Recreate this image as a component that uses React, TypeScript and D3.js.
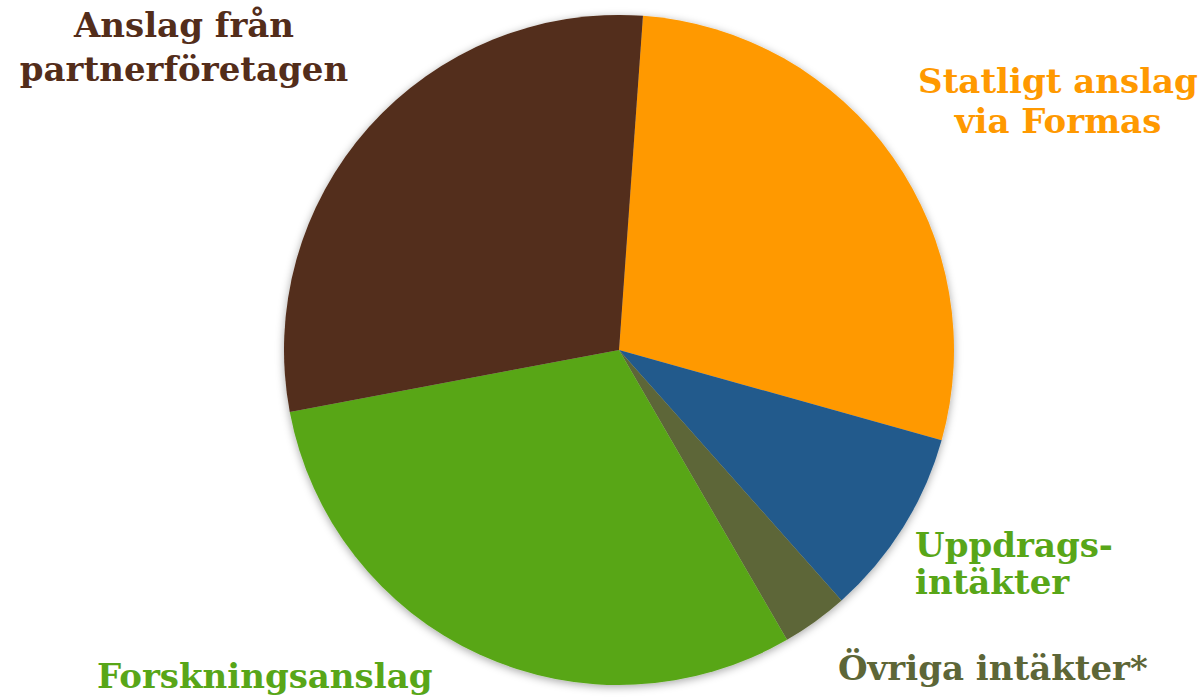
import React, { useEffect, useRef } from "react";
import * as d3 from "d3";

const categories = [
  "Statligt anslag via Formas",
  "Uppdragsintäkter",
  "Övriga intäkter*",
  "Forskningsanslag",
  "Anslag från partnerföretagen",
];
const values = [28.2, 9.1, 3.2, 30.4, 29.1];
const colors = ["#FF9900", "#215A8C", "#5D6637", "#58A618", "#532D1A"];
const labelColors = ["#FF9900", "#58A618", "#5D6637", "#58A618", "#532D1A"];
const labelLines = [
  ["Statligt anslag", "via Formas"],
  ["Uppdrags-", "intäkter"],
  ["Övriga intäkter*"],
  ["Forskningsanslag"],
  ["Anslag från", "partnerföretagen"],
];

// label layout (anchor x, first baseline y, line gap, text-anchor)
const labelLayout = [
  { x: 1058, y: 93, gap: 40, anchor: "middle" },
  { x: 915, y: 557, gap: 37, anchor: "start" },
  { x: 838, y: 680, gap: 0, anchor: "start" },
  { x: 97, y: 688, gap: 0, anchor: "start" },
  { x: 184, y: 37, gap: 44, anchor: "middle" },
];

const W = 1200;
const H = 699;
const CX = 619;
const CY = 350;
const R = 335;
const START = (4.1 * Math.PI) / 180;

export default function App() {
  const ref = useRef<SVGSVGElement | null>(null);
  useEffect(() => {
    const svg = d3.select(ref.current);
    svg.selectAll("*").remove();
    const defs = svg.append("defs");
    const f = defs
      .append("filter")
      .attr("id", "shadow")
      .attr("x", "-10%")
      .attr("y", "-10%")
      .attr("width", "120%")
      .attr("height", "120%");
    f.append("feDropShadow")
      .attr("dx", 0)
      .attr("dy", 2)
      .attr("stdDeviation", 4)
      .attr("flood-color", "#000")
      .attr("flood-opacity", 0.35);

    const pie = d3
      .pie<number>()
      .sort(null)
      .value((d) => d)
      .startAngle(START)
      .endAngle(START + 2 * Math.PI);
    const arc = d3.arc<d3.PieArcDatum<number>>().innerRadius(0).outerRadius(R);

    const g = svg
      .append("g")
      .attr("transform", `translate(${CX},${CY})`)
      .attr("filter", "url(#shadow)");
    g.selectAll("path")
      .data(pie(values))
      .join("path")
      .attr("d", arc)
      .attr("fill", (_, i) => colors[i]);

    const lg = svg.append("g");
    categories.forEach((_, i) => {
      const L = labelLayout[i];
      const t = lg
        .append("text")
        .attr("x", L.x)
        .attr("y", L.y)
        .attr("text-anchor", L.anchor)
        .attr("fill", labelColors[i])
        .style("font-family", "'DejaVu Serif', serif")
        .style("font-weight", "bold")
        .style("font-size", "34px");
      labelLines[i].forEach((line, j) => {
        t.append("tspan")
          .attr("x", L.x)
          .attr("y", L.y + j * L.gap)
          .text(line);
      });
    });
  }, []);
  return (
    <svg
      ref={ref}
      width={W}
      height={H}
      style={{ position: "absolute", left: 0, top: 0, background: "#fff" }}
    />
  );
}
